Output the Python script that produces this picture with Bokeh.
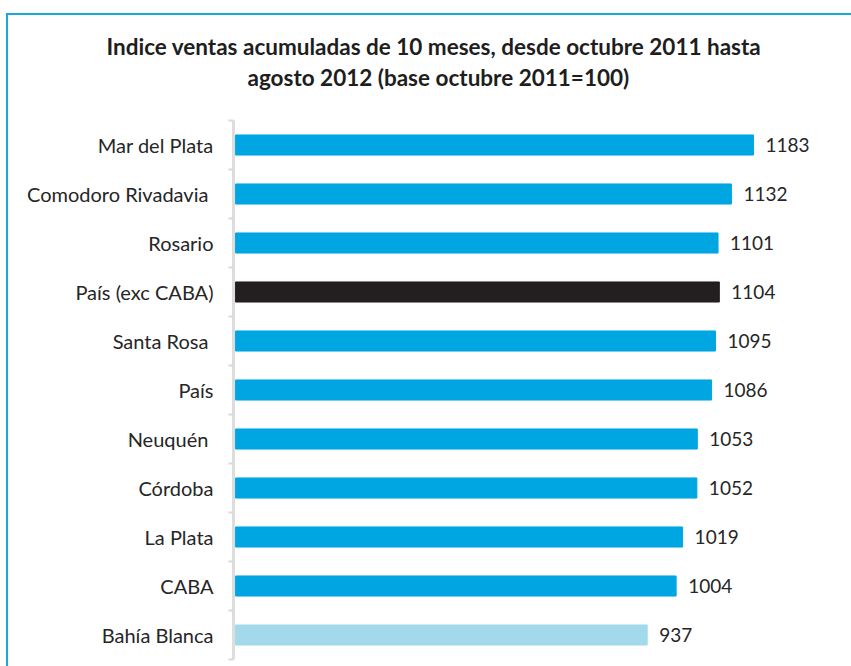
from bokeh.plotting import figure
from bokeh.models import ColumnDataSource, FixedTicker, Range1d, Title, InlineStyleSheet
from bokeh.embed import file_html
from bokeh.resources import INLINE
from bokeh.core.properties import value

# ---- data ----
cities = ["Mar del Plata", "Comodoro Rivadavia ", "Rosario", "País (exc CABA)",
          "Santa Rosa ", "País", "Neuquén ", "Córdoba", "La Plata", "CABA",
          "Bahía Blanca"]
values = [1183, 1132, 1101, 1104, 1095, 1086, 1053, 1052, 1019, 1004, 937]
groups = ["ciudad", "ciudad", "ciudad", "total_exc", "ciudad", "ciudad",
          "ciudad", "ciudad", "ciudad", "ciudad", "destacada"]
title_lines = ["Indice ventas acumuladas de 10 meses, desde octubre 2011 hasta",
               "agosto 2012 (base octubre 2011=100)"]

# ---- styles ----
group_colors = {"ciudad": "#00A6E2", "total_exc": "#231F20", "destacada": "#A3DAEB"}
FONT = "Lato"
TXT = "#262626"
AXIS_MIN = -20.8
BAR_BASE = -16

n = len(cities)
centers = [i + 0.5 for i in range(n)]
source = ColumnDataSource(dict(
    y=centers,
    v=values,
    label=[str(v) for v in values],
    color=[group_colors[g] for g in groups],
))

p = figure(width=851, height=666, output_backend="svg", toolbar_location=None,
           x_range=Range1d(AXIS_MIN, 1410), y_range=Range1d(n, 0),
           x_axis_location=None, min_border_left=233, min_border_right=0,
           min_border_top=120, min_border_bottom=7)
p.outline_line_color = None
p.xgrid.visible = False
p.ygrid.visible = False
p.background_fill_color = "white"
p.border_fill_color = "white"

p.hbar(y="y", left=BAR_BASE, right="v", height=0.41, color="color", source=source)
p.text(x="v", y="y", text="label", source=source, x_offset=12,
       text_align="left", text_baseline="middle", text_font=value(FONT),
       text_font_size="19px", text_color=TXT)

ax = p.yaxis[0]
ax.ticker = FixedTicker(ticks=centers, minor_ticks=list(range(n + 1)))
ax.major_label_overrides = {c: name for c, name in zip(centers, cities)}
ax.major_tick_line_color = None
ax.major_tick_out = 0
ax.major_tick_in = 0
ax.minor_tick_line_color = "#D9D9D9"
ax.minor_tick_line_width = 2
ax.minor_tick_out = 5
ax.minor_tick_in = 0
ax.axis_line_color = "#DDDDDD"
ax.axis_line_width = 3
ax.major_label_standoff = 15
ax.major_label_text_font = FONT
ax.major_label_text_font_size = "20px"
ax.major_label_text_color = TXT

# title (second line first: later titles stack further from the plot)
p.add_layout(Title(text=title_lines[1], align="left", offset=14, standoff=60,
                   text_font=FONT, text_font_style="bold", text_font_size="22.5px",
                   text_color="#1E1E1E"), "above")
p.add_layout(Title(text=title_lines[0], align="left", offset=-127, standoff=-56,
                   text_font=FONT, text_font_style="bold", text_font_size="22.5px",
                   text_color="#1E1E1E"), "above")

# outer chart-area frame (only its left and top edges are visible in the crop)
p.stylesheets = [InlineStyleSheet(css="""
:host { position: relative; }
:host::after {
  content: ""; position: absolute; left: 6px; top: 13px;
  width: 845px; height: 653px; box-sizing: border-box;
  border-left: 2.5px solid #1AA7E0; border-top: 2.5px solid #1AA7E0;
  pointer-events: none; z-index: 10;
}
""")]

open("out.html", "w").write(file_html(p, INLINE))
